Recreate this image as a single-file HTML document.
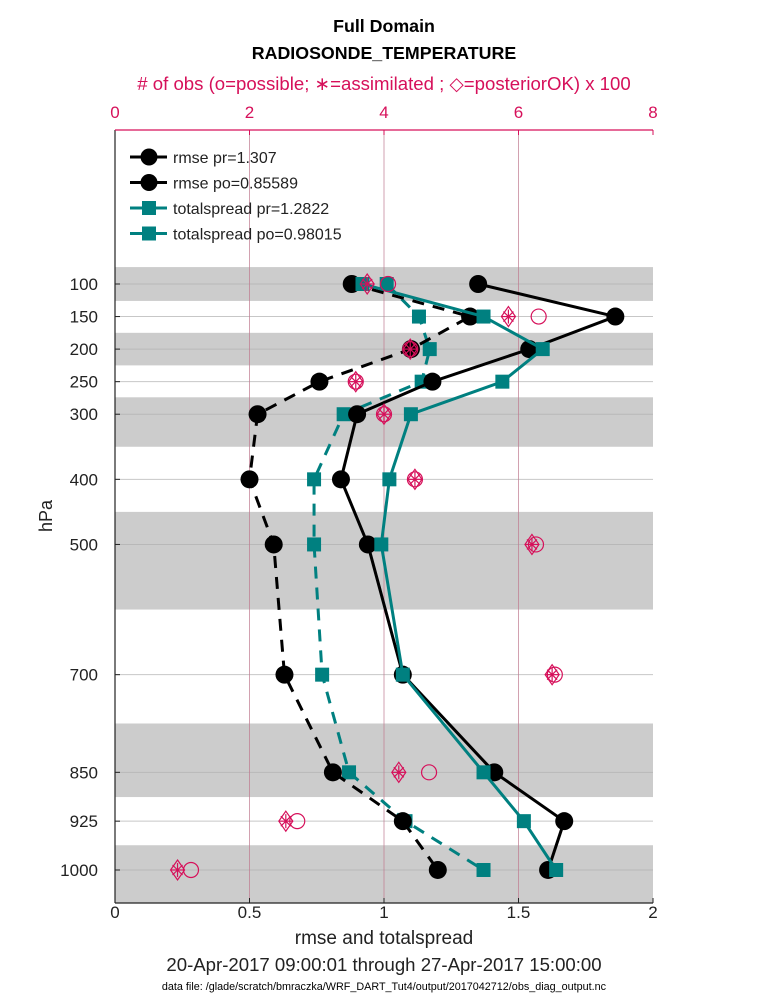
<!DOCTYPE html>
<html><head><meta charset="utf-8"><style>
body{margin:0;background:#fff;}
svg{display:block;font-family:"Liberation Sans",sans-serif;}
</style></head><body>
<svg id="c" width="768" height="1008" viewBox="0 0 768 1008">
<text x="384" y="32" text-anchor="middle" font-size="17.8" font-weight="bold">Full Domain</text>
<text x="384" y="59" text-anchor="middle" font-size="17.8" font-weight="bold">RADIOSONDE_TEMPERATURE</text>
<text x="384" y="90" text-anchor="middle" font-size="18.6" fill="#d6105a"># of obs (o=possible; ∗=assimilated ; ◇=posteriorOK) x 100</text>
<text x="384" y="944" text-anchor="middle" font-size="19" fill="#222">rmse and totalspread</text>
<text x="384" y="971" text-anchor="middle" font-size="18.6" fill="#222">20-Apr-2017 09:00:01 through 27-Apr-2017 15:00:00</text>
<text x="384" y="990" text-anchor="middle" font-size="10.8" fill="#000">data file: /glade/scratch/bmraczka/WRF_DART_Tut4/output/2017042712/obs_diag_output.nc</text>
<text transform="translate(52,516) rotate(-90)" text-anchor="middle" font-size="18" fill="#222">hPa</text>
<g id="plot"></g>
</svg>
<script>
const levels=[100,150,200,250,300,400,500,700,850,925,1000];
const rmsePr=[1.35,1.86,1.54,1.18,0.90,0.84,0.94,1.07,1.41,1.67,1.61];
const rmsePo=[0.88,1.32,1.10,0.76,0.53,0.50,0.59,0.63,0.81,1.07,1.20];
const spreadPr=[0.92,1.37,1.59,1.44,1.10,1.02,0.99,1.07,1.37,1.52,1.64];
const spreadPo=[1.01,1.13,1.17,1.14,0.85,0.74,0.74,0.77,0.87,1.08,1.37];
const obsPossible=[4.06,6.30,4.39,3.58,4.00,4.46,6.26,6.54,4.67,2.71,1.13];
const obsAssim=[3.75,5.85,4.39,3.58,4.00,4.46,6.20,6.50,4.22,2.54,0.93];
const bands=[[74,126],[175,225],[274,350],[450,600],[775,888],[962,1051]];
const xTicks=[0,0.5,1,1.5,2];
const topTicks=[0,2,4,6,8];
const legendLabels=["rmse pr=1.307","rmse po=0.85589","totalspread pr=1.2822","totalspread po=0.98015"];

const L=115,R=653,T=130,B=903;
const X=v=>L+v*(R-L)/2;
const XT=v=>L+v*(R-L)/8;
const Y=p=>284+(p-100)*0.6511;
const NS="http://www.w3.org/2000/svg";
const g=document.getElementById('plot');
function mk(tag,attrs,parent){const e=document.createElementNS(NS,tag);for(const k in attrs)e.setAttribute(k,attrs[k]);(parent||g).appendChild(e);return e;}

bands.forEach(b=>{const y1=Math.max(T,Y(b[0])),y2=Math.min(B,Y(b[1]));
const r=mk('rect',{x:L,y:y1,width:R-L,height:y2-y1,fill:'#cccccc'});

});
levels.forEach((p,i)=>{const l=mk('line',{x1:L,x2:R,y1:Y(p),y2:Y(p),stroke:'#b0b0b0','stroke-width':1,opacity:0.7});


const t=mk('text',{x:L-17,y:Y(p)+6,'text-anchor':'end','font-size':17,fill:'#222'});t.textContent=p;


mk('line',{x1:L,x2:L+5,y1:Y(p),y2:Y(p),stroke:'#222'});});
topTicks.forEach(v=>{if(v>0&&v<8){const l=mk('line',{x1:XT(v),x2:XT(v),y1:T,y2:B,stroke:'#c07a90','stroke-width':1,opacity:0.7});

}
const t=mk('text',{x:XT(v),y:118,'text-anchor':'middle','font-size':17,fill:'#d6105a'});t.textContent=v;


mk('line',{x1:XT(v),x2:XT(v),y1:T,y2:T+5,stroke:'#d6105a'});});
xTicks.forEach(v=>{const t=mk('text',{x:X(v),y:918,'text-anchor':'middle','font-size':17,fill:'#222'});t.textContent=v;


mk('line',{x1:X(v),x2:X(v),y1:B,y2:B-5,stroke:'#222'});});
mk('line',{x1:L,x2:R,y1:B,y2:B,stroke:'#222','stroke-width':1.2});
mk('line',{x1:L,x2:L,y1:T,y2:B,stroke:'#222','stroke-width':1.2});
mk('line',{x1:L,x2:R,y1:T,y2:T,stroke:'#d6105a','stroke-width':1.2});

function series(vals,color,dash,marker,name){
const pts=vals.map((v,i)=>X(v)+','+Y(levels[i])).join(' ');
const pl=mk('polyline',{points:pts,fill:'none',stroke:color,'stroke-width':3,'stroke-dasharray':dash?'12,9':'none'});


vals.forEach((v,i)=>{let m;
if(marker==='c')m=mk('circle',{cx:X(v),cy:Y(levels[i]),r:9,fill:color});
else m=mk('rect',{x:X(v)-7,y:Y(levels[i])-7,width:14,height:14,fill:color});

});}
series(spreadPo,'#008080',true,'s','spread-po');
series(rmsePo,'#000',true,'c','rmse-po');
series(rmsePr,'#000',false,'c','rmse-pr');
series(spreadPr,'#008080',false,'s','spread-pr');

const pk='#d6105a';
obsPossible.forEach((v,i)=>{const c=mk('circle',{cx:XT(v),cy:Y(levels[i]),r:7.5,fill:'none',stroke:pk,'stroke-width':1.2});

});
obsAssim.forEach((v,i)=>{const x=XT(v),y=Y(levels[i]);
const gg=mk('g',{stroke:pk,'stroke-width':1.2,fill:'none'});


mk('polygon',{points:`${x},${y-10} ${x+7},${y} ${x},${y+10} ${x-7},${y}`},gg);
mk('line',{x1:x-7,x2:x+7,y1:y,y2:y},gg);mk('line',{x1:x,x2:x,y1:y-7,y2:y+7},gg);
mk('line',{x1:x-5,x2:x+5,y1:y-5,y2:y+5},gg);mk('line',{x1:x-5,x2:x+5,y1:y+5,y2:y-5},gg);});

const lg=mk('g',{});


const lc=['#000','#000','#008080','#008080'],lm=['c','c','s','s'];
legendLabels.forEach((s,i)=>{const y=157+i*25.5;
const e=mk('g',{},lg);


mk('line',{x1:130,x2:167,y1:y,y2:y,stroke:lc[i],'stroke-width':3},e);
if(lm[i]==='c')mk('circle',{cx:149,cy:y,r:8.5,fill:lc[i]},e);else mk('rect',{x:142,y:y-7,width:14,height:14,fill:lc[i]},e);
const t=mk('text',{x:173,y:y+6,'font-size':16,fill:'#222'},e);t.textContent=s;});
</script>
</body></html>
